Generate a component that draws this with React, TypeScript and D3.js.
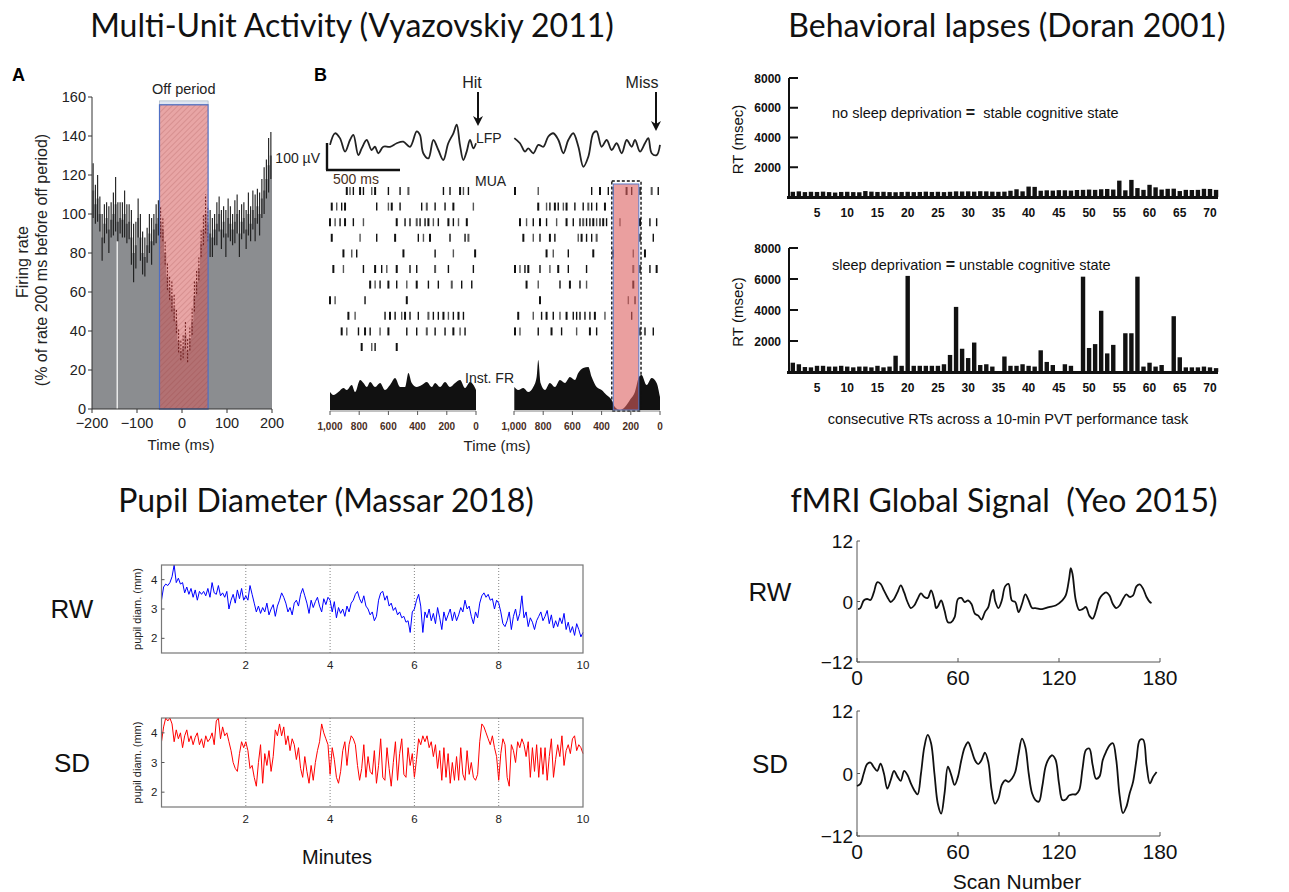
import React from 'react';
import * as d3 from 'd3';

// ---------- Panel A: firing rate around OFF periods ----------
const firingStart = -200;
const firingBin = 5;
const firingMean = [112, 105, 108, 100, 88, 95, 98, 92, 97, 100, 105, 96, 98, 97, 100, 95, 96, 88, 80, 84,
  98, 88, 80, 78, 84, 90, 86, 92, 95, 98, 96, 92, 80, 68, 62, 58, 52, 45, 35, 30,
  32, 38, 30, 36, 45, 58, 65, 72, 85, 92, 100, 95, 90, 88, 92, 95, 100, 92, 96, 90,
  98, 95, 92, 96, 100, 90, 96, 98, 92, 100, 95, 102, 98, 104, 100, 108, 112, 118, 125, 130];
const firingErr = [14, 10, 12, 9, 12, 10, 8, 12, 9, 11, 14, 10, 8, 9, 12, 10, 9, 14, 15, 12,
  10, 12, 11, 10, 9, 10, 12, 8, 10, 9, 8, 6, 6, 7, 6, 8, 7, 6, 6, 5,
  6, 7, 6, 6, 7, 8, 6, 6, 7, 8, 10, 9, 12, 10, 8, 11, 9, 10, 8, 12,
  10, 9, 8, 11, 10, 12, 9, 8, 10, 11, 9, 10, 12, 9, 11, 10, 12, 10, 14, 12];
const offPeriod = [-50, 58];
const aTicksY = [0, 20, 40, 60, 80, 100, 120, 140, 160];
const aTicksX = [-200, -100, 0, 100, 200];

// ---------- Panel B: LFP / MUA / inst. FR before hit and miss ----------
const lfpHit = [[1000, 19], [966, 62], [932, 44], [897, -6], [863, 37], [840, 56], [806, -19], [783, 6], [749, 37], [715, 0], [692, 12], [669, -12], [635, 12], [589, 12], [543, 25], [498, 31], [452, 12], [406, 69], [384, 56], [361, -12], [326, -31], [292, 37], [258, 0], [224, -37], [190, 25], [155, 62], [132, 94], [110, 19], [87, -37], [64, -6], [41, 37], [18, 6], [0, 25]];
const lfpMiss = [[998, 44], [959, 25], [925, -6], [902, 6], [868, -12], [833, 19], [799, 12], [765, 50], [731, 62], [696, 37], [662, -12], [628, 37], [594, 62], [559, 12], [525, -62], [491, -25], [457, 62], [434, 69], [400, 12], [365, 37], [331, 0], [297, 25], [262, -12], [228, 37], [194, 12], [171, 37], [137, -6], [103, 25], [80, 44], [57, -12], [23, -19], [0, 19]];
const rasterHit = [
  [885, 863, 840, 794, 771, 714, 691, 600, 520, 463, 223, 178, 109, 86, 52],
  [988, 954, 920, 897, 680, 600, 577, 520, 372, 337, 280, 212, 155, 18],
  [1000, 965, 931, 897, 840, 771, 543, 486, 452, 406, 383, 349, 326, 292, 258, 189, 155, 120, 63],
  [988, 794, 680, 554, 395, 360, 315, 178, 75, 52],
  [908, 851, 817, 497, 280, 155, 6],
  [977, 908, 771, 691, 646, 611, 543, 452, 406, 280, 189, 18],
  [725, 691, 657, 600, 543, 474, 406, 326, 258, 166, 98, 29],
  [1000, 965, 760, 474],
  [874, 828, 623, 589, 554, 509, 486, 452, 395, 326, 292, 258, 223, 189, 155, 120, 86],
  [920, 885, 805, 760, 725, 657, 600, 474, 406, 337, 280, 212, 155, 109, 75],
  [783, 714, 691, 543],
];
const rasterMiss = [
  [993, 834, 468, 411, 354, 320, 229, 194, 137, 57, 12],
  [834, 777, 754, 720, 697, 662, 640, 583, 526, 491, 468, 434, 377],
  [959, 914, 868, 822, 777, 708, 640, 594, 548, 526, 503, 480, 457, 434, 411, 389, 366, 274, 137, 69, 23],
  [936, 868, 822, 754, 720, 560, 537, 503, 468, 434, 137, 46],
  [777, 731, 628, 457, 320, 183, 103],
  [993, 959, 925, 902, 822, 754, 697, 628, 503, 183, 137, 69, 23],
  [914, 834, 685, 617, 548, 503, 183],
  [822, 217, 171],
  [971, 868, 811, 777, 731, 685, 640, 594, 571, 548, 514, 480, 446, 377, 194],
  [993, 959, 834, 743, 674, 571, 480, 434, 137, 103, 46],
  [],
];
const frHit = [[1000, 36], [977, 30], [943, 36], [908, 44], [885, 40], [851, 50], [828, 36], [794, 60], [771, 54], [748, 46], [725, 56], [691, 46], [657, 54], [623, 40], [589, 50], [554, 64], [520, 46], [486, 46], [463, 74], [440, 54], [406, 46], [372, 50], [337, 56], [303, 46], [280, 54], [246, 46], [212, 56], [178, 46], [143, 54], [109, 60], [75, 44], [41, 56], [6, 44], [0, 40]];
const frMiss = [[998, 46], [971, 40], [936, 44], [902, 36], [868, 46], [845, 66], [834, 100], [818, 54], [788, 40], [754, 54], [720, 46], [685, 60], [651, 54], [617, 66], [583, 60], [560, 74], [526, 84], [491, 86], [468, 66], [434, 46], [400, 40], [366, 30], [331, 20], [309, 6], [274, 0], [240, 6], [206, 20], [172, 36], [144, 66], [126, 70], [92, 50], [57, 64], [23, 54], [0, 26]];
const missOff = [320, 145];
const bTicks = [1000, 800, 600, 400, 200, 0];

// ---------- Behavioral lapses (PVT reaction times) ----------
const rtRested = [350, 380, 330, 350, 340, 360, 330, 300, 340, 350, 330, 320, 400, 360, 340, 350, 330, 320, 340, 350,
  330, 340, 360, 340, 350, 330, 350, 380, 370, 380, 360, 390, 380, 360, 350, 360, 420,
  520, 380, 700, 680, 420, 450, 430, 460, 450, 430, 470, 480, 500, 480, 520, 540, 500, 1100, 450, 1150, 600, 480, 820,
  650, 500, 550, 560, 400, 480, 470, 480, 550, 540, 480];
const rtDeprived = [600, 500, 320, 300, 400, 400, 350, 350, 400, 350, 300, 350, 350, 300, 400, 300, 350, 1050, 400, 6200,
  400, 400, 400, 400, 400, 500, 1100, 4200, 1500, 900, 1900, 450, 500, 350, 0, 1000, 400, 400, 500, 400,
  350, 1400, 650, 450, 0, 500, 400, 0, 6150, 1550, 1800, 3950, 1200, 1750, 0, 2500, 2500, 6150, 350, 600,
  350, 450, 0, 3600, 950, 300, 300, 300, 350, 300, 250];
const rtTicksY = [2000, 4000, 6000, 8000];
const rtTicksX = [5, 10, 15, 20, 25, 30, 35, 40, 45, 50, 55, 60, 65, 70];

// ---------- Pupil diameter (one sample per 0.05 min) ----------
const pupilRW = [
  3.3, 3.75, 3.85, 3.8, 3.9, 4.1, 4.5, 3.9, 4.05, 3.85, 3.9, 3.55, 3.75, 3.5, 3.7, 3.4, 3.65, 3.3, 3.6, 3.5,
  3.6, 3.45, 3.7, 3.4, 3.9, 3.55, 3.5, 3.8, 3.45, 3.55, 3.4, 3.6, 3.0, 3.3, 3.5, 3.2, 3.65, 3.35, 3.7, 3.3,
  3.45, 3.3, 3.8, 3.5, 3.2, 2.9, 3.1, 2.85, 3.05, 2.9, 3.2, 2.8, 3.0, 3.15, 2.75, 3.1, 3.3, 3.55, 3.4, 3.2,
  2.9, 3.05, 2.8, 3.2, 3.3, 3.1, 3.5, 3.7, 3.45, 3.2, 2.85, 3.3, 3.05, 3.25, 3.4, 3.1, 2.9, 3.35, 3.15, 3.4,
  3.3, 2.9, 3.25, 2.7, 3.05, 2.85, 3.0, 2.75, 3.1, 2.9, 3.2, 3.3, 3.5, 3.6, 3.35, 3.2, 3.45, 3.1, 3.0, 2.8,
  2.9, 2.6, 2.75, 3.3, 3.55, 3.6, 3.3, 3.45, 3.1, 3.2, 2.95, 3.05, 2.8, 2.9, 2.7, 2.75, 2.55, 2.6, 2.2, 2.9,
  3.0, 3.3, 3.5, 3.1, 2.2, 2.9, 2.7, 3.0, 2.6, 2.85, 2.5, 3.05, 2.7, 2.3, 2.9, 2.6, 2.8, 3.0, 2.6, 2.9,
  2.6, 2.8, 3.05, 2.9, 3.3, 3.0, 3.1, 2.75, 2.5, 2.9, 2.7, 3.2, 3.45, 3.55, 3.4, 3.5, 3.3, 3.35, 3.0, 3.3,
  3.2, 2.9, 2.5, 2.4, 2.6, 2.9, 2.3, 2.75, 3.0, 2.6, 2.85, 3.45, 2.7, 2.9, 2.4, 2.7, 2.55, 2.3, 2.6, 2.75,
  2.9, 2.6, 2.75, 2.95, 2.5, 2.8, 2.35, 2.6, 2.4, 2.7, 2.5, 2.85, 2.3, 2.55, 2.2, 2.4, 2.1, 2.5, 2.3, 2.05, 2.2];
const pupilSD = [
  3.7, 4.2, 4.5, 4.4, 4.5, 4.3, 3.7, 4.1, 3.8, 4.0, 3.5, 3.9, 4.1, 3.7, 3.9, 3.6, 3.85, 4.0, 3.6, 3.8,
  3.5, 3.9, 3.7, 3.8, 4.0, 3.6, 4.4, 4.5, 3.8, 4.2, 3.9, 4.0, 3.7, 3.4, 3.0, 2.8, 2.7, 3.3, 3.7, 3.5,
  3.7, 3.4, 2.8, 2.9, 2.5, 2.2, 3.0, 3.6, 2.3, 3.3, 2.9, 3.4, 2.7, 3.2, 4.1, 3.9, 4.3, 3.9, 4.2, 3.6,
  3.9, 3.4, 3.8, 3.6, 3.1, 3.5, 2.8, 2.5, 3.2, 2.7, 2.3, 2.9, 2.4, 3.0, 3.4, 3.7, 4.3, 4.0, 3.8, 3.6,
  2.6, 3.5, 3.1, 2.5, 2.3, 2.7, 3.4, 3.7, 2.9, 3.6, 3.9, 3.8, 3.6, 2.9, 2.4, 2.8, 3.6, 2.5, 3.2, 2.7,
  2.6, 3.4, 2.3, 2.9, 3.8, 2.5, 2.4, 3.5, 2.8, 2.2, 3.0, 3.7, 2.4, 3.3, 3.8, 2.6, 2.5, 3.5, 2.9, 3.3,
  2.5, 3.1, 3.8, 3.6, 3.9, 3.7, 3.9, 3.5, 3.7, 3.2, 3.6, 2.8, 3.4, 2.4, 3.5, 2.5, 3.3, 2.3, 3.0, 2.4,
  3.2, 2.4, 3.5, 2.6, 2.4, 3.4, 2.6, 3.0, 2.5, 2.4, 2.6, 3.7, 4.3, 4.2, 4.0, 3.8, 3.6, 3.9, 3.5, 3.2,
  2.4, 3.3, 3.8, 3.6, 2.5, 2.2, 3.6, 3.4, 3.0, 3.7, 3.5, 3.8, 3.6, 3.2, 3.7, 2.5, 3.5, 2.7, 3.6, 2.5,
  3.5, 2.6, 3.5, 2.4, 3.2, 3.8, 2.5, 3.1, 3.6, 3.2, 3.9, 2.9, 3.4, 3.6, 3.3, 3.8, 3.9, 3.4, 3.6, 3.5, 3.3];
const pupilStep = 0.05;
const pupilTicksX = [2, 4, 6, 8, 10];
const pupilTicksY = [2, 3, 4];

// ---------- fMRI global signal ----------
const fmriRW = [[0.6, -1.5], [2, -1.3], [4, 0.2], [6, 0.5], [8, 0.3], [10, 1.8], [12, 3.8], [14, 3.5], [16, 2.2], [18, 0.9], [20, -0.1], [22, 0.5], [24, 1.8], [26, 3.2], [28, 1.8], [30, -0.1], [32, -1.3], [34, -0.8], [36, 0.5], [38, 1.6], [40, 0.9], [42, 0.7], [44, 2.2], [46, 0.2], [47, -1.3], [48, -1.0], [50, 0.2], [52, -1.8], [54, -4.1], [56, -4.1], [58, -3.1], [60, 0.5], [62, 0.7], [64, -0.1], [66, 0.2], [68, -0.5], [70, -2.4], [72, -2.8], [74, -3.6], [76, -2.1], [78, -1.1], [80, 1.8], [81, 2.3], [82, 0.2], [84, -1.3], [86, 0.2], [88, 3.0], [90, 3.5], [92, 0.2], [94, -0.1], [96, -2.1], [98, -0.5], [100, 1.4], [102, 0.2], [104, -1.3], [106, -1.3], [110, -1.5], [114, -1.1], [118, -0.8], [122, 0.2], [124, 1.2], [126, 4.5], [127, 6.6], [128, 5.5], [130, 0.2], [132, -1.7], [134, -1.5], [136, -1.1], [138, -2.8], [140, -3.4], [142, -1.8], [144, 0.5], [146, 1.4], [148, 1.8], [150, 1.2], [152, -0.5], [154, -1.3], [156, -0.8], [158, 0.5], [160, 1.4], [162, 0.9], [164, 1.2], [166, 3.0], [168, 3.4], [170, 2.5], [172, 0.9], [174, -0.1], [175, -0.3]];
const fmriSD = [[0, -2.4], [2, -2.0], [4, 0], [6, 1.8], [8, 2.1], [10, 1.2], [12, 0.5], [14, 1.9], [16, 0], [18, -2.9], [20, -1.3], [22, 0.5], [24, -0.6], [26, -1.4], [28, 0.5], [30, -0.3], [32, -1.9], [34, -3.2], [36, -4.0], [38, 0], [40, 5.1], [42, 7.4], [44, 5.8], [46, 0], [48, -5.8], [50, -7.7], [52, -3.8], [54, 1.3], [56, -0.3], [58, -2.2], [60, -0.6], [62, 2.6], [64, 5.0], [66, 6.0], [68, 4.5], [70, 2.6], [72, 1.8], [74, 2.6], [76, 4.0], [78, 2.2], [80, -3.2], [82, -5.8], [84, -4.8], [86, -2.2], [88, -1.3], [90, -1.6], [92, -1.0], [94, 0.3], [96, 3.8], [98, 6.7], [100, 5.1], [102, 0], [104, -3.8], [106, -5.1], [108, -5.4], [110, -2.6], [112, 1.3], [114, 2.9], [116, 3.5], [118, 2.6], [120, -1.9], [122, -5.1], [124, -5.0], [126, -4.2], [128, -4.0], [130, -4.0], [132, -3.2], [134, 1.0], [136, 4.5], [138, 4.8], [140, 1.6], [142, -1.0], [144, -0.6], [146, 2.6], [148, 4.2], [150, 5.4], [152, 5.8], [154, 2.6], [156, -4.2], [158, -7.6], [160, -6.4], [162, -3.8], [164, -1.6], [166, 2.6], [168, 6.4], [170, 6.5], [172, 1.6], [174, -1.9], [176, -0.6], [178, 0.3]];
const fmriTicksX = [0, 60, 120, 180];
const fmriTicksY = [-12, 0, 12];

const SANS = "'Liberation Sans', Arial, sans-serif";

function fmtMinus(v: number) {
  return v < 0 ? '\u2212' + Math.abs(v) : String(v);
}

function PanelA() {
  const x = d3.scaleLinear().domain([-200, 200]).range([92, 272]);
  const y = d3.scaleLinear().domain([0, 160]).range([409, 97]);
  const bw = x(firingStart + firingBin) - x(firingStart);
  const bins = firingMean.map((m, i) => ({ t: firingStart + i * firingBin, m, e: firingErr[i] }));
  const inOff = (t: number) => t >= offPeriod[0] && t < offPeriod[1];
  const steps = [...bins, { t: firingStart + bins.length * firingBin, m: bins[bins.length - 1].m, e: 0 }];
  const hist = d3.area<{ t: number; m: number }>().x(d => x(d.t)).y0(y(0)).y1(d => y(d.m)).curve(d3.curveStepAfter);
  return (
    <g fontFamily={SANS}>
      <defs>
        <pattern id="hatch" width="4" height="4" patternUnits="userSpaceOnUse" patternTransform="rotate(45)">
          <line x1="0" y1="0" x2="0" y2="4" stroke="#8a2a2a" strokeWidth="1" opacity="0.35" />
        </pattern>
      </defs>
      <text x={12} y={81} fontSize={18} fontWeight="bold">A</text>
      <path d={hist(steps) || ''} fill="#8b8d90" />
      <line x1={x(-144)} x2={x(-144)} y1={y(0)} y2={y(86)} stroke="#fff" strokeWidth={1.2} />
      {bins.filter(b => !inOff(b.t)).map((b, i) => (
        <line key={i} x1={x(b.t) + bw / 2} x2={x(b.t) + bw / 2} y1={y(b.m - b.e)} y2={y(b.m + b.e)} stroke="#1a1a1a" strokeWidth={1.1} />
      ))}
      <rect x={x(offPeriod[0])} y={y(158)} width={x(offPeriod[1]) - x(offPeriod[0])} height={y(156) - y(158)} fill="#dfe6f2" stroke="#9ab" strokeWidth={0.6} />
      <rect x={x(offPeriod[0])} y={y(156)} width={x(offPeriod[1]) - x(offPeriod[0])} height={y(0) - y(156)} fill="rgb(213,91,91)" opacity={0.55} />
      <rect x={x(offPeriod[0])} y={y(156)} width={x(offPeriod[1]) - x(offPeriod[0])} height={y(0) - y(156)} fill="url(#hatch)" />
      {bins.filter(b => inOff(b.t)).map((b, i) => (
        <line key={i} x1={x(b.t) + bw / 2} x2={x(b.t) + bw / 2} y1={y(b.m - b.e)} y2={y(b.m + b.e)} stroke="#6a1818" strokeWidth={1} strokeDasharray="2,1.5" />
      ))}
      <rect x={x(offPeriod[0])} y={y(156)} width={x(offPeriod[1]) - x(offPeriod[0])} height={y(0) - y(156)} fill="none" stroke="#4f6fc4" strokeWidth={1.2} />
      <text x={x(4)} y={94} fontSize={14.5} textAnchor="middle" fill="#222">Off period</text>
      <line x1={x(-200)} x2={x(-200)} y1={y(0)} y2={y(160)} stroke="#333" />
      <line x1={x(-200)} x2={x(200)} y1={y(0)} y2={y(0)} stroke="#333" />
      {aTicksY.map(v => (
        <g key={v}>
          <line x1={x(-200) - 4} x2={x(-200)} y1={y(v)} y2={y(v)} stroke="#333" />
          <text x={x(-200) - 6} y={y(v) + 5} fontSize={14.5} textAnchor="end" fill="#222">{v}</text>
        </g>
      ))}
      {aTicksX.map(v => (
        <g key={v}>
          <line x1={x(v)} x2={x(v)} y1={y(0)} y2={y(0) + 4} stroke="#333" />
          <text x={x(v)} y={428} fontSize={14.5} textAnchor="middle" fill="#222">{fmtMinus(v)}</text>
        </g>
      ))}
      <text x={181} y={450} fontSize={15} textAnchor="middle" fill="#222">Time (ms)</text>
      <text transform="translate(28,262) rotate(-90)" fontSize={16} textAnchor="middle" fill="#222">Firing rate</text>
      <text transform="translate(47,260) rotate(-90)" fontSize={16} textAnchor="middle" fill="#222">(% of rate 200 ms before off period)</text>
    </g>
  );
}

function Arrow({ x, y1, y2 }: { x: number; y1: number; y2: number }) {
  return (
    <g>
      <line x1={x} x2={x} y1={y1} y2={y2 - 6} stroke="#111" strokeWidth={2} />
      <path d={`M${x - 5},${y2 - 10} L${x},${y2} L${x + 5},${y2 - 10} L${x},${y2 - 7} Z`} fill="#111" />
    </g>
  );
}

function PanelB() {
  const xL = d3.scaleLinear().domain([1000, 0]).range([330, 476]);
  const xR = d3.scaleLinear().domain([1000, 0]).range([514, 660]);
  const yLfp = d3.scaleLinear().domain([0, 100]).range([150, 123]);
  const yRow = d3.scaleLinear().domain([0, 10]).range([191, 347]);
  const yFr = d3.scaleLinear().domain([0, 100]).range([410, 360]);
  const lfp = (xs: d3.ScaleLinear<number, number>) =>
    d3.line<number[]>().x(d => xs(d[0])).y(d => yLfp(d[1])).curve(d3.curveCatmullRom);
  const fr = (xs: d3.ScaleLinear<number, number>) =>
    d3.area<number[]>().x(d => xs(d[0])).y0(yFr(0)).y1(d => yFr(d[1])).curve(d3.curveMonotoneX);
  const fmt = d3.format(',');
  const sides: [d3.ScaleLinear<number, number>, number[][]][] = [[xL, rasterHit], [xR, rasterMiss]];
  return (
    <g fontFamily={SANS}>
      <text x={314} y={81} fontSize={18} fontWeight="bold">B</text>
      <text x={472} y={88} fontSize={16} textAnchor="middle" fill="#222">Hit</text>
      <text x={642} y={88} fontSize={16} textAnchor="middle" fill="#222">Miss</text>
      <Arrow x={478} y1={92} y2={126} />
      <Arrow x={656} y1={92} y2={131} />
      <path d={lfp(xL)(lfpHit) || ''} fill="none" stroke="#222" strokeWidth={1.8} />
      <path d={lfp(xR)(lfpMiss) || ''} fill="none" stroke="#222" strokeWidth={1.8} />
      <text x={476} y={143} fontSize={14} fill="#222">LFP</text>
      <line x1={327} x2={327} y1={yLfp(26)} y2={yLfp(-74)} stroke="#111" strokeWidth={2.4} />
      <line x1={326} x2={327 + xL(500) - xL(1000)} y1={yLfp(-74)} y2={yLfp(-74)} stroke="#111" strokeWidth={2.4} />
      <text x={320} y={163} fontSize={14} textAnchor="end" fill="#222">100 µV</text>
      <text x={333} y={184} fontSize={14} fill="#4a3020">500 ms</text>
      <text x={475} y={186} fontSize={14} fill="#222">MUA</text>
      {sides.map(([xs, rows], s) => (
        <g key={s}>
          {rows.map((row, r) => row.map((t, k) => (
            <line key={r + '-' + k} x1={xs(t)} x2={xs(t)} y1={yRow(r) - 4} y2={yRow(r) + 4}
              stroke={k % 4 === 1 ? '#555' : '#111'} strokeWidth={k % 3 === 0 ? 2 : 1.4} />
          )))}
        </g>
      ))}
      <path d={fr(xL)(frHit) || ''} fill="#111" />
      <path d={fr(xR)(frMiss) || ''} fill="#111" />
      <text x={465} y={383} fontSize={14} fill="#222">Inst. FR</text>
      <rect x={xR(330)} y={181} width={xR(130) - xR(330)} height={230} fill="none" stroke="#111" strokeWidth={1.4} strokeDasharray="3,2" />
      <rect x={xR(missOff[0])} y={184} width={xR(missOff[1]) - xR(missOff[0])} height={226} fill="rgb(220,95,95)" opacity={0.6} />
      <rect x={xR(missOff[0])} y={184} width={xR(missOff[1]) - xR(missOff[0])} height={226} fill="none" stroke="#5a78c8" strokeWidth={1} />
      {[xL, xR].map((xs, s) => (
        <g key={s}>
          <line x1={xs(1000)} x2={xs(0)} y1={411} y2={411} stroke="#666" strokeWidth={0.8} />
          {bTicks.map(v => (
            <g key={v}>
              <line x1={xs(v)} x2={xs(v)} y1={411} y2={415} stroke="#555" />
              <text x={xs(v)} y={430} fontSize={10} fontWeight="bold" textAnchor="middle" fill="#4a2e1e">{fmt(v)}</text>
            </g>
          ))}
        </g>
      ))}
      <text x={497} y={451} fontSize={15} textAnchor="middle" fill="#222">Time (ms)</text>
    </g>
  );
}

function Lapses({ data, top, bottom, note, xlabel }: { data: number[]; top: number; bottom: number; note: [string, string]; xlabel?: string }) {
  const x = d3.scaleLinear().domain([5, 70]).range([817, 1210]);
  const y = d3.scaleLinear().domain([0, 8000]).range([bottom, top]);
  const bw = 4.4;
  return (
    <g fontFamily={SANS} fill="#111">
      {data.map((v, i) => (
        <rect key={i} x={x(i + 1) - bw / 2} y={y(v)} width={bw} height={y(0) - y(v)} fill="#111" />
      ))}
      <line x1={789} x2={789} y1={y(8000)} y2={y(0)} stroke="#111" strokeWidth={2} />
      <line x1={787} x2={1218} y1={y(0) + 0.5} y2={y(0) + 0.5} stroke="#111" strokeWidth={3} />
      {rtTicksY.map(v => (
        <g key={v}>
          <line x1={789} x2={798} y1={y(v)} y2={y(v)} stroke="#111" strokeWidth={2} />
          <text x={781} y={y(v) + 4.5} fontSize={12} fontWeight="bold" textAnchor="end">{v}</text>
        </g>
      ))}
      {rtTicksX.map(v => (
        <text key={v} x={x(v)} y={y(0) + 20} fontSize={12} fontWeight="bold" textAnchor="middle">{v}</text>
      ))}
      <text transform={`translate(743,${(y(0) + y(8000)) / 2 + 2}) rotate(-90)`} fontSize={15} textAnchor="middle">RT (msec)</text>
      <text x={832} y={top + (note[0].startsWith('no') ? 40 : 22)} fontSize={14.5} style={{ whiteSpace: 'pre' }}>
        {note[0]}<tspan fontWeight="bold" fontSize={16}>=</tspan>{note[1]}
      </text>
      {xlabel && <text x={1008} y={bottom + 52} fontSize={14.5} textAnchor="middle">{xlabel}</text>}
    </g>
  );
}

function Pupil({ data, top, bottom, color, label }: { data: number[]; top: number; bottom: number; color: string; label: string }) {
  const x = d3.scaleLinear().domain([0, 10]).range([161.5, 583]);
  const y = d3.scaleLinear().domain([1.5, 4.5]).range([bottom, top]);
  const line = d3.line<number>().x((_, i) => x(i * pupilStep)).y(d => y(d));
  return (
    <g fontFamily={SANS}>
      <text x={72} y={(top + bottom) / 2 + 9} fontSize={26} textAnchor="middle" fill="#111">{label}</text>
      {pupilTicksX.slice(0, 4).map(v => (
        <line key={v} x1={x(v)} x2={x(v)} y1={top} y2={bottom} stroke="#666" strokeWidth={0.8} strokeDasharray="1,2" />
      ))}
      <path d={line(data) || ''} fill="none" stroke={color} strokeWidth={1} />
      <rect x={x(0)} y={top} width={x(10) - x(0)} height={bottom - top} fill="none" stroke="#777" strokeWidth={1.2} />
      {pupilTicksY.map(v => (
        <g key={v}>
          <line x1={x(0)} x2={x(0) + 3} y1={y(v)} y2={y(v)} stroke="#555" />
          <text x={x(0) - 4} y={y(v) + 4} fontSize={11.5} textAnchor="end" fill="#222">{v}</text>
        </g>
      ))}
      {pupilTicksX.map(v => (
        <text key={v} x={x(v)} y={bottom + 16} fontSize={11.5} textAnchor="middle" fill="#222">{v}</text>
      ))}
      <text transform={`translate(${x(0) - 21},${(top + bottom) / 2}) rotate(-90)`} fontSize={11} textAnchor="middle" fill="#222">pupil diam. (mm)</text>
    </g>
  );
}

function Fmri({ data, top, bottom, label }: { data: number[][]; top: number; bottom: number; label: string }) {
  const x = d3.scaleLinear().domain([0, 180]).range([857, 1160]);
  const y = d3.scaleLinear().domain([-12, 12]).range([bottom, top]);
  const line = d3.line<number[]>().x(d => x(d[0])).y(d => y(d[1])).curve(d3.curveCatmullRom);
  return (
    <g fontFamily={SANS} fill="#111">
      <text x={770} y={y(0) - 1} fontSize={26} textAnchor="middle">{label}</text>
      <line x1={x(0)} x2={x(0)} y1={y(12)} y2={y(-12)} stroke="#555" strokeWidth={1} />
      <line x1={x(0)} x2={x(180)} y1={y(-12)} y2={y(-12)} stroke="#555" strokeWidth={1} />
      {fmriTicksY.map(v => (
        <g key={v}>
          <line x1={x(0)} x2={x(0) + 3} y1={y(v)} y2={y(v)} stroke="#555" />
          <text x={x(0) - 4} y={y(v) + 7} fontSize={19} textAnchor="end">{fmtMinus(v)}</text>
        </g>
      ))}
      {fmriTicksX.map(v => (
        <g key={v}>
          <line x1={x(v)} x2={x(v)} y1={y(-12)} y2={y(-12) - 4} stroke="#555" />
          <text x={x(v)} y={y(-12) + 23} fontSize={21} textAnchor="middle">{v}</text>
        </g>
      ))}
      <path d={line(data) || ''} fill="none" stroke="#111" strokeWidth={1.8} />
    </g>
  );
}

export default function App() {
  const titleFont = "Lato, 'Open Sans', sans-serif";
  return (
    <div style={{ position: 'absolute', left: 0, top: 0 }}>
      <svg width={1289} height={892} style={{ display: 'block', background: '#fff' }}>
        <g fontFamily={titleFont} fontSize={32} fill="#111" textAnchor="middle">
          <text x={352} y={37}>Multi-Unit Activity (Vyazovskiy 2011)</text>
          <text x={1007} y={37}>Behavioral lapses (Doran 2001)</text>
          <text x={326} y={512}>Pupil Diameter (Massar 2018)</text>
          <text x={1004} y={512} style={{ whiteSpace: 'pre' }}>fMRI Global Signal  (Yeo 2015)</text>
        </g>
        <PanelA />
        <PanelB />
        <Lapses data={rtRested} top={78} bottom={197} note={['no sleep deprivation ', '  stable cognitive state']} />
        <Lapses data={rtDeprived} top={248} bottom={372} note={['sleep deprivation ', ' unstable cognitive state']}
          xlabel="consecutive RTs across a 10-min PVT performance task" />
        <Pupil data={pupilRW} top={565} bottom={653} color="#0000ff" label="RW" />
        <Pupil data={pupilSD} top={718} bottom={807} color="#ff0000" label="SD" />
        <text x={337} y={864} fontSize={20} textAnchor="middle" fontFamily={SANS} fill="#111">Minutes</text>
        <Fmri data={fmriRW} top={541} bottom={662} label="RW" />
        <Fmri data={fmriSD} top={711} bottom={836} label="SD" />
        <text x={1017} y={889} fontSize={21} textAnchor="middle" fontFamily={SANS} fill="#111">Scan Number</text>
      </svg>
    </div>
  );
}
